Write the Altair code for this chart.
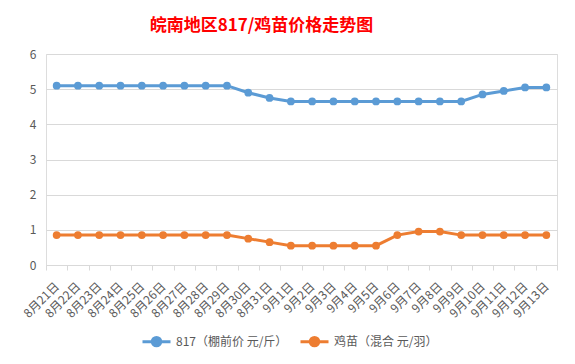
import altair as alt
import pandas as pd

dates = ["8月21日", "8月22日", "8月23日", "8月24日", "8月25日", "8月26日", "8月27日", "8月28日",
         "8月29日", "8月30日", "8月31日", "9月1日", "9月2日", "9月3日", "9月4日", "9月5日",
         "9月6日", "9月7日", "9月8日", "9月9日", "9月10日", "9月11日", "9月12日", "9月13日"]
price_817 = [5.1, 5.1, 5.1, 5.1, 5.1, 5.1, 5.1, 5.1, 5.1, 4.9, 4.75, 4.65, 4.65, 4.65, 4.65, 4.65,
             4.65, 4.65, 4.65, 4.65, 4.85, 4.95, 5.05, 5.05]
price_chick = [0.85, 0.85, 0.85, 0.85, 0.85, 0.85, 0.85, 0.85, 0.85, 0.75, 0.65, 0.55, 0.55, 0.55, 0.55, 0.55,
               0.85, 0.95, 0.95, 0.85, 0.85, 0.85, 0.85, 0.85]
series = ["817（棚前价 元/斤）", "鸡苗（混合 元/羽）"]
colors = ["#5B9BD5", "#ED7D31"]

rows = []
for i, d in enumerate(dates):
    rows.append({"date": d, "series": series[0], "value": price_817[i], "order": i})
    rows.append({"date": d, "series": series[1], "value": price_chick[i], "order": i})
df = pd.DataFrame(rows)

FONT = "Noto Sans CJK SC"

x = alt.X("date:N", sort=dates, title=None, bandPosition=0.5,
          scale=alt.Scale(type="band", paddingInner=0, paddingOuter=0),
          axis=alt.Axis(labelAngle=-45, labelAlign="right", labelBaseline="middle",
                        labelPadding=14, labelFontSize=12, labelColor="#595959", labelFont=FONT,
                        tickBand="extent", tickColor="#d9d9d9", tickSize=5,
                        domainColor="#d9d9d9", grid=False, labelOverlap=False))
y = alt.Y("value:Q", title=None,
          scale=alt.Scale(domain=[0, 6], nice=False),
          axis=alt.Axis(values=[0, 1, 2, 3, 4, 5, 6], labelFontSize=12, labelColor="#595959",
                        labelFont=FONT, labelPadding=10, ticks=False, domain=False,
                        gridColor="#d9d9d9"))
color = alt.Color("series:N", sort=series,
                  scale=alt.Scale(domain=series, range=colors),
                  legend=alt.Legend(title=None, orient="none", direction="horizontal",
                                    legendX=95, legendY=272, labelFontSize=12, labelColor="#595959",
                                    labelFont=FONT, columnPadding=6, symbolSize=784,
                                    symbolStrokeWidth=3, labelOffset=4,
                                    symbolType="M-1,0H1M-0.3,0A0.3,0.3 0 1,0 0.3,0A0.3,0.3 0 1,0 -0.3,0"))

chart = alt.Chart(df).mark_line(strokeWidth=3, point=alt.OverlayMarkDef(size=60, filled=True, opacity=1)).encode(
    x=x, y=y, color=color, order="order:Q"
).properties(
    width=511, height=211,
    title=alt.TitleParams("皖南地区817/鸡苗价格走势图", color="#FF0000", fontSize=17, fontWeight="bold",
                          font=FONT, anchor="middle", dx=-40, offset=13),
    autosize=alt.AutoSizeParams(type="none"),
    padding={"left": 38, "top": 46, "right": 10, "bottom": 91},
).configure_view(stroke=None).configure(background="white")

chart.save("out.html", embed_options={"renderer": "svg", "actions": False})
